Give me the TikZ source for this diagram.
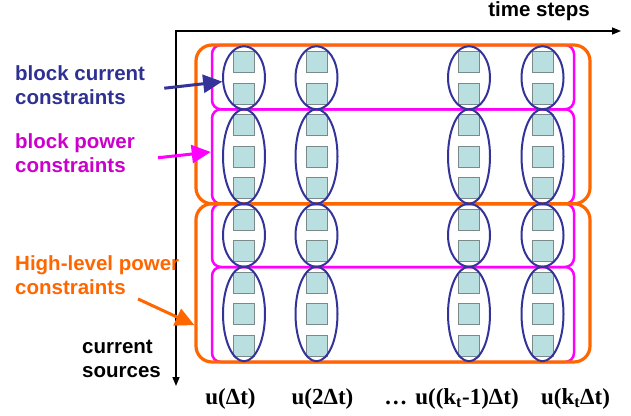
\documentclass[tikz,border=0pt]{standalone}
\usepackage{fontspec}
\setmainfont{Liberation Serif}
\setsansfont{Liberation Sans}
\usepackage{tikz}
\usetikzlibrary{positioning,arrows.meta,shapes.geometric}
\definecolor{hlorange}{HTML}{FF6600}
\definecolor{blkpink}{HTML}{FF00FF}
\definecolor{blkpinktxt}{HTML}{CC00CC}
\definecolor{curblue}{HTML}{333399}
\definecolor{curbluetxt}{HTML}{2E3192}
\definecolor{srcfill}{HTML}{B9DFE0}
\definecolor{srcedge}{HTML}{7A8A8A}

\begin{document}
\begin{tikzpicture}[
    x=1pt, y=-1pt,
    src/.style={draw=srcedge, fill=srcfill, line width=0.8pt, minimum size=21pt, inner sep=0pt},
    curgrp/.style={ellipse, draw=curblue, line width=2pt, minimum width=42pt, inner sep=0pt},
    powgrp/.style={draw=blkpink, line width=2.5pt, rounded corners=9pt, minimum width=362pt, inner sep=0pt},
    hlgrp/.style={draw=hlorange, line width=3.2pt, rounded corners=16pt, minimum width=394pt, inner sep=0pt},
    lbl/.style={font=\sffamily\bfseries\fontsize{20.5}{24}\selectfont, align=left, inner sep=0pt, anchor=north west},
    ulbl/.style={font=\rmfamily\bfseries\fontsize{23}{27}\selectfont, inner sep=0pt, anchor=base},
    axis/.style={line width=1.5pt, {Triangle[length=9pt,width=7pt]}-{Triangle[length=9pt,width=7pt]}},
    arr/.style={line width=3pt, -{Triangle[length=19pt,width=18pt]}}
]
    \useasboundingbox (0,0) rectangle (631,415);

    \coordinate (orig) at (176,31);
    \coordinate (tmax) at (621,31);
    \coordinate (smax) at (176,386);
    \draw[axis] (tmax) -- (orig) -- (smax);

    \foreach \ya/\yb/\n in {45/109.25/1, 109.25/203.75/2, 203.75/267/3, 267/362/4}
        \node[powgrp, minimum height={\yb-\ya}] (pow\n) at (393,{(\ya+\yb)/2}) {};
    \node[hlgrp, minimum height=158.75] (hl1) at (393,124.375) {};
    \node[hlgrp, minimum height=158.25] (hl2) at (393,282.875) {};

    \foreach \c/\x in {1/244, 2/316.5, 3/469, 4/542.5} {
        \foreach \r in {0,...,9}
            \node[src] (sq\c-\r) at (\x,{62+31.5*\r}) {};
        \foreach \g/\ya/\yb in {1/46.25/109.25, 2/109.25/203.75, 3/203.75/266.75, 4/266.75/361.25}
            \node[curgrp, minimum height={\yb-\ya}] (cur\c-\g) at (\x,{(\ya+\yb)/2}) {};
    }

    \node[lbl] (tsteps) at (590,1) [anchor=north east] {time steps};
    \node[lbl] (srcs) at (82,340) {current\\sources};
    \node[lbl, text=curbluetxt] (lblcur) at (15,65.5) {block current\\constraints};
    \node[lbl, text=blkpinktxt] (lblpow) at (15,133) {block power\\constraints};
    \node[lbl, text=hlorange] (lblhl) at (15,255) {High-level power\\constraints};

    \node[ulbl] (u1) at (230.5,404) {u(Δt)};
    \node[ulbl] (u2) at (322.5,404) {u(2Δt)};
    \node[ulbl] (u3) at (451.5,404) {…\hspace{8pt}u((k\textsubscript{t}-1)Δt)};
    \node[ulbl] (u4) at (575.5,404) {u(k\textsubscript{t}Δt)};

    \draw[arr, curblue] ([shift={(19,3)}]lblcur.east) -- (cur1-1.190);
    \draw[arr, blkpink] ([shift={(23,5)}]lblpow.east) -- ([yshift=4.5pt]pow2.west);
    \draw[arr, hlorange] ([shift={(123,4.5)}]lblhl.south west) -- (hl2.192);
\end{tikzpicture}
\end{document}
